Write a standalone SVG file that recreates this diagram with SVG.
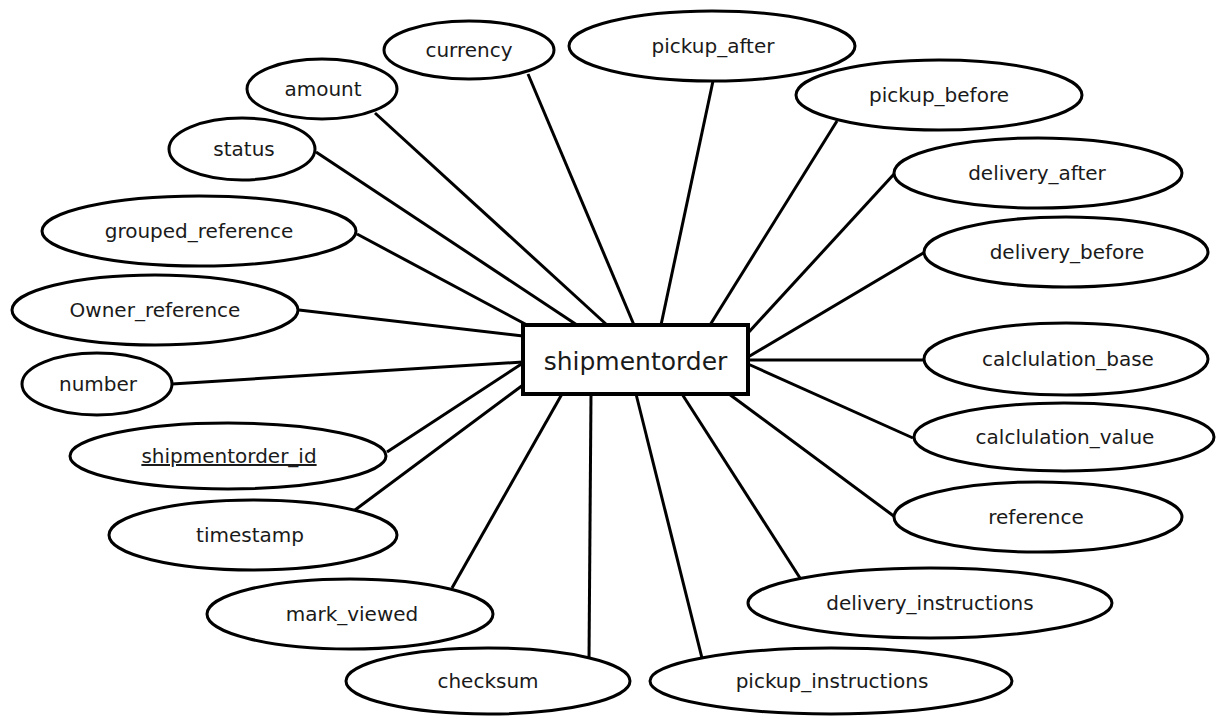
<svg xmlns="http://www.w3.org/2000/svg" width="1216" height="716" viewBox="0 0 1216 716">
<style>
.bg{fill:#ffffff}
.attr ellipse{fill:#ffffff;stroke:#000000;stroke-width:3}
.ent rect{fill:#ffffff;stroke:#000000;stroke-width:4}
text{font-family:"DejaVu Sans","Verdana",sans-serif;fill:#1a1a1a;text-anchor:middle}
.attr text{font-size:20px}
.ent text{font-size:25px}
#connectors line{stroke:#000000;stroke-width:3;stroke-linecap:butt}
</style>
<rect class="bg" x="0" y="0" width="1216" height="716"/>
<g id="connectors">
<line x1="528" y1="74" x2="634" y2="325"/>
<line x1="713" y1="81" x2="661" y2="325"/>
<line x1="837" y1="121" x2="710" y2="325"/>
<line x1="895" y1="173" x2="748" y2="333"/>
<line x1="925" y1="252" x2="748" y2="357"/>
<line x1="748" y1="360" x2="924" y2="360"/>
<line x1="748" y1="364" x2="913" y2="438"/>
<line x1="729" y1="394" x2="895" y2="517"/>
<line x1="682" y1="394" x2="800" y2="578"/>
<line x1="636" y1="394" x2="702" y2="658"/>
<line x1="591" y1="394" x2="589" y2="659"/>
<line x1="562" y1="394" x2="452" y2="588"/>
<line x1="523" y1="385" x2="355" y2="510"/>
<line x1="523" y1="363" x2="387" y2="452"/>
<line x1="172" y1="384" x2="523" y2="362"/>
<line x1="299" y1="310" x2="523" y2="336"/>
<line x1="357" y1="234" x2="527" y2="325"/>
<line x1="316" y1="152" x2="577" y2="325"/>
<line x1="375" y1="113" x2="607" y2="325"/>
</g>
<g id="shipmentorder" class="ent"><rect x="523" y="325" width="225" height="69"/><text x="635.5" y="370">shipmentorder</text></g>
<g id="attr-currency" class="attr"><ellipse cx="469" cy="50" rx="85" ry="29"/><text x="469" y="57">currency</text></g>
<g id="attr-pickup_after" class="attr"><ellipse cx="712" cy="46" rx="143" ry="35"/><text x="713" y="53">pickup_after</text></g>
<g id="attr-pickup_before" class="attr"><ellipse cx="939" cy="95" rx="143" ry="35"/><text x="939" y="102">pickup_before</text></g>
<g id="attr-delivery_after" class="attr"><ellipse cx="1038" cy="173" rx="144" ry="35"/><text x="1037" y="180">delivery_after</text></g>
<g id="attr-delivery_before" class="attr"><ellipse cx="1066" cy="252" rx="142" ry="35"/><text x="1067" y="259">delivery_before</text></g>
<g id="attr-calculation_base" class="attr"><ellipse cx="1066" cy="359" rx="142" ry="36"/><text x="1068" y="366">calclulation_base</text></g>
<g id="attr-calculation_value" class="attr"><ellipse cx="1064" cy="437" rx="150" ry="34"/><text x="1065" y="444">calclulation_value</text></g>
<g id="attr-reference" class="attr"><ellipse cx="1038" cy="517" rx="144" ry="35"/><text x="1036" y="524">reference</text></g>
<g id="attr-delivery_instructions" class="attr"><ellipse cx="930" cy="603" rx="182" ry="35"/><text x="930" y="610">delivery_instructions</text></g>
<g id="attr-pickup_instructions" class="attr"><ellipse cx="831" cy="681" rx="181" ry="33"/><text x="832" y="688">pickup_instructions</text></g>
<g id="attr-checksum" class="attr"><ellipse cx="488" cy="681" rx="142" ry="33"/><text x="488" y="688">checksum</text></g>
<g id="attr-mark_viewed" class="attr"><ellipse cx="350" cy="614" rx="143" ry="35"/><text x="352" y="621">mark_viewed</text></g>
<g id="attr-timestamp" class="attr"><ellipse cx="253" cy="535" rx="144" ry="35"/><text x="250" y="542">timestamp</text></g>
<g id="attr-shipmentorder_id" class="attr"><ellipse cx="228" cy="456" rx="158" ry="33"/><text x="229" y="463" text-decoration="underline">shipmentorder_id</text></g>
<g id="attr-number" class="attr"><ellipse cx="97" cy="384" rx="75" ry="31"/><text x="98" y="391">number</text></g>
<g id="attr-Owner_reference" class="attr"><ellipse cx="155" cy="310" rx="143" ry="35"/><text x="155" y="317">Owner_reference</text></g>
<g id="attr-grouped_reference" class="attr"><ellipse cx="199" cy="231" rx="157" ry="35"/><text x="199" y="238">grouped_reference</text></g>
<g id="attr-status" class="attr"><ellipse cx="242" cy="149" rx="73" ry="31"/><text x="244" y="156">status</text></g>
<g id="attr-amount" class="attr"><ellipse cx="322" cy="89" rx="75" ry="30"/><text x="323" y="96">amount</text></g>
</svg>
